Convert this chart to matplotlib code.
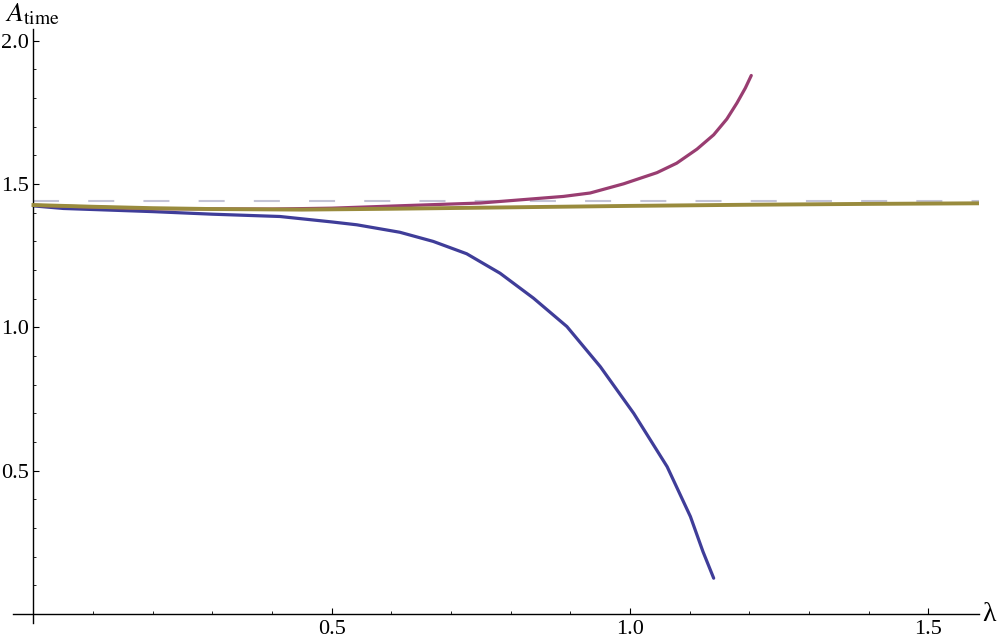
import matplotlib
matplotlib.use('Agg')
import matplotlib.pyplot as plt
from matplotlib.ticker import MultipleLocator

# Curves
lam_blue = [0, 0.05, 0.2, 0.3, 0.413, 0.5, 0.542, 0.614, 0.670, 0.726, 0.782,
            0.838, 0.894, 0.950, 1.006, 1.062, 1.101, 1.122, 1.140]
a_blue = [1.424, 1.415, 1.404, 1.395, 1.387, 1.368, 1.358, 1.332, 1.300, 1.257, 1.189,
          1.102, 1.003, 0.863, 0.700, 0.514, 0.340, 0.218, 0.125]

lam_mag = [0, 0.2, 0.4, 0.5, 0.609, 0.749, 0.888, 0.933, 0.989, 1.045, 1.078,
           1.112, 1.140, 1.162, 1.179, 1.193, 1.203]
a_mag = [1.426, 1.414, 1.413, 1.416, 1.424, 1.434, 1.457, 1.469, 1.501, 1.540, 1.573,
         1.622, 1.672, 1.727, 1.783, 1.835, 1.879]

lam_olive = [0, 0.1, 0.2, 0.3, 0.45, 0.6, 0.8, 1.0, 1.2, 1.4, 1.585]
a_olive = [1.427, 1.421, 1.416, 1.413, 1.411, 1.414, 1.419, 1.424, 1.428, 1.431, 1.433]

# reference level (dashed)
a_ref = 1.4427

x_ticks = [0.5, 1.0, 1.5]
y_ticks = [0.5, 1.0, 1.5, 2.0]

xmin, xmax = -0.035, 1.585
ymin, ymax = -0.032, 2.04

plt.rcParams['font.family'] = ['Liberation Serif', 'DejaVu Serif']
plt.rcParams['mathtext.fontset'] = 'stix'

fig = plt.figure(figsize=(10, 6.42), dpi=100)
ax = fig.add_axes([0.0126, 0.0293, 0.9666, 0.925])

ax.plot([0, xmax], [a_ref, a_ref], color='#c3c3d6', lw=1.5, dashes=(12.5, 14), zorder=1)
ax.plot(lam_blue, a_blue, color=(0.2472, 0.24, 0.6), lw=2.3, zorder=2,
        solid_joinstyle='round', solid_capstyle='round')
ax.plot(lam_mag, a_mag, color=(0.6, 0.24, 0.443), lw=2.3, zorder=3,
        solid_joinstyle='round', solid_capstyle='round')
ax.plot(lam_olive, a_olive, color=(0.6, 0.547, 0.24), lw=2.8, zorder=4)

ax.set_xlim(xmin, xmax)
ax.set_ylim(ymin, ymax)

# Mathematica-style axes through the origin
for s in ['top', 'right']:
    ax.spines[s].set_visible(False)
ax.spines['left'].set_position(('data', 0))
ax.spines['bottom'].set_position(('data', 0))
ax.spines['left'].set_linewidth(1.0)
ax.spines['bottom'].set_linewidth(1.0)

ax.set_xticks(x_ticks)
ax.set_xticklabels(['%.1f' % v for v in x_ticks])
ax.set_yticks(y_ticks)
ax.set_yticklabels(['%.1f' % v for v in y_ticks])
ax.xaxis.set_minor_locator(MultipleLocator(0.1))
ax.yaxis.set_minor_locator(MultipleLocator(0.1))
ax.tick_params(which='major', direction='in', length=4.5, width=0.8, labelsize=16, pad=4)
ax.tick_params(which='minor', direction='in', length=2.5, width=0.6)
ax.tick_params(axis='y', pad=3)

ax.text(1.003, 0, 'λ', transform=ax.get_yaxis_transform(), fontsize=20,
        ha='left', va='center')
fig.text(0.032, 0.978, r'$A_{\mathrm{time}}$', fontsize=20, ha='center', va='center')

fig.savefig('out.png', dpi=100)
